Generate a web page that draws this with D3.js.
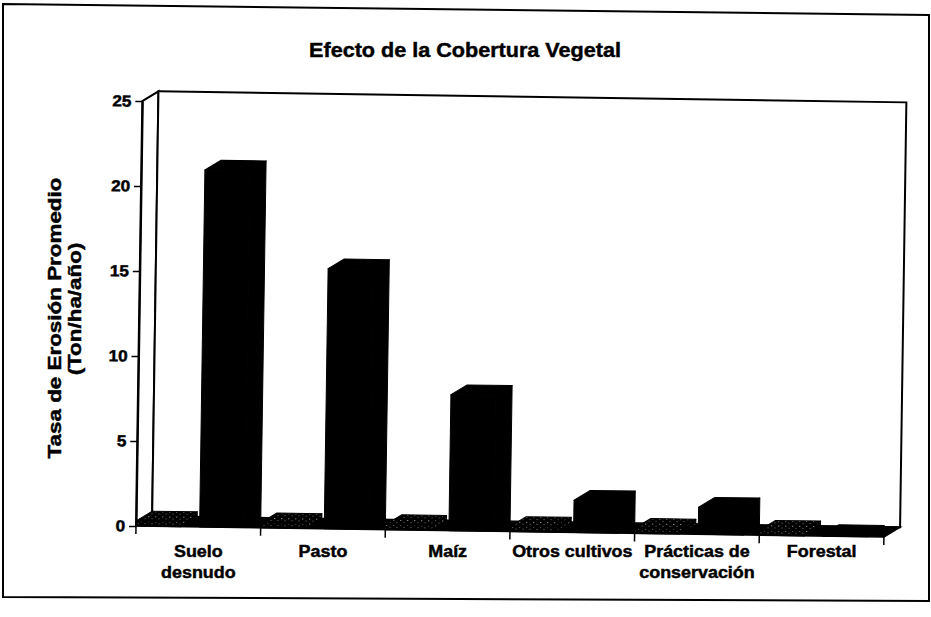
<!DOCTYPE html>
<html>
<head>
<meta charset="utf-8">
<script src="https://cdn.jsdelivr.net/npm/d3@7"></script>
<style>
  html, body { margin: 0; padding: 0; background: #fff; }
  svg { display: block; font-family: "Liberation Sans", Arial, sans-serif; }
  text { stroke: #000; stroke-width: 0.45px; }
</style>
</head>
<body>
<div id="graph"></div>
<script>
// Datos
const categorias = ["Suelo desnudo", "Pasto", "Maíz", "Otros cultivos", "Prácticas de conservación", "Forestal"];
const etiquetas = [["Suelo", "desnudo"], ["Pasto"], ["Maíz"], ["Otros cultivos"], ["Prácticas de", "conservación"], ["Forestal"]];
const tasaErosion = [21.0, 15.3, 8.0, 1.9, 1.6, 0.1];
const serieFondo = [0.3, 0.3, 0.3, 0.3, 0.3, 0.3]; // barras casi nulas (punteadas) sobre el piso
const ticksY = [0, 5, 10, 15, 20, 25];
const titulo = "Efecto de la Cobertura Vegetal";
const tituloY = ["Tasa de Erosión Promedio", "(Ton/ha/año)"];

const width = 931, height = 617;
const plotLeft = 136, plotRight = 884, plotBase = 526, plotTop = 101;
const depthX = 16, depthY = -10;   // desplazamiento del fondo (efecto 3D)
const tilt = 0.85;                 // la hoja escaneada esta algo girada

const svg = d3.select("#graph")
              .append("svg")
                .attr("width", width)
                .attr("height", height);

// Trama punteada (escasa) para la serie casi nula
const pat = svg.append("defs").append("pattern")
               .attr("id", "puntos")
               .attr("width", 7)
               .attr("height", 5)
               .attr("patternUnits", "userSpaceOnUse");
pat.append("rect").attr("width", 7).attr("height", 5).attr("fill", "#000");
pat.append("rect").attr("x", 1).attr("y", 1).attr("width", 1.2).attr("height", 1).attr("fill", "#9a9a9a");
pat.append("rect").attr("x", 4.5).attr("y", 3).attr("width", 1).attr("height", 1).attr("fill", "#777");

// Marco exterior
svg.append("path")
   .attr("d", "M3,4 L929,15 L929,601 L3,597 Z")
   .attr("fill", "none")
   .attr("stroke", "#000")
   .attr("stroke-width", 2);

var yscale = d3.scaleLinear()
               .domain([0, 25])
               .range([plotBase, plotTop]);

var xscale = d3.scaleBand()
               .domain(categorias)
               .range([plotLeft, plotRight]);

// Cada serie ocupa media categoria; el frente es mas angosto por la profundidad
var xserie = d3.scaleBand()
               .domain(["fondo", "tasa"])
               .range([0, xscale.bandwidth()])
               .paddingInner(0.04);
var frente = xserie.bandwidth() - depthX;

var chart = svg.append("g")
               .attr("transform", "rotate(" + tilt + "," + plotLeft + "," + plotBase + ")");

// Pared izquierda y pared del fondo
chart.append("path")
     .attr("d", `M${plotLeft},${plotBase} L${plotLeft + depthX},${plotBase + depthY} L${plotLeft + depthX},${plotTop + depthY} L${plotLeft},${plotTop} Z`)
     .attr("fill", "#fff")
     .attr("stroke", "#000")
     .attr("stroke-width", 2);

chart.append("rect")
     .attr("x", plotLeft + depthX)
     .attr("y", plotTop + depthY)
     .attr("width", plotRight - plotLeft)
     .attr("height", plotBase - plotTop)
     .attr("fill", "#fff")
     .attr("stroke", "#000")
     .attr("stroke-width", 2);

// Piso
chart.append("path")
     .attr("d", `M${plotLeft},${plotBase} L${plotRight},${plotBase} L${plotRight + depthX},${plotBase + depthY} L${plotLeft + depthX},${plotBase + depthY} Z`)
     .attr("fill", "#000")
     .attr("stroke", "#000")
     .attr("stroke-width", 1.5);

// Caja 3D: frente, tapa y lado derecho
function caja(sel, x, w, v, fill, borde) {
  let yv = yscale(v);
  let caras = [
    `M${x},${yv} L${x + w},${yv} L${x + w},${plotBase} L${x},${plotBase} Z`,
    `M${x},${yv} L${x + depthX},${yv + depthY} L${x + w + depthX},${yv + depthY} L${x + w},${yv} Z`,
    `M${x + w},${yv} L${x + w + depthX},${yv + depthY} L${x + w + depthX},${plotBase + depthY} L${x + w},${plotBase} Z`
  ];
  sel.selectAll(null)
     .data(caras)
     .enter()
       .append("path")
       .attr("d", d => d)
       .attr("fill", fill)
       .attr("stroke", borde)
       .attr("stroke-width", 1)
       .attr("stroke-linejoin", "round");
}

chart.selectAll("g.cat")
     .data(categorias)
     .enter()
       .append("g")
       .attr("class", "cat")
       .each(function (c, i) {
         let g = d3.select(this);
         let x0 = xscale(c);
         caja(g, x0 + xserie("fondo"), frente, serieFondo[i], "url(#puntos)", "#000");
         caja(g, x0 + xserie("tasa"), frente, tasaErosion[i], "#000", "#000");
       });

// Eje Y
var y_axis = d3.axisLeft()
               .scale(yscale)
               .tickValues(ticksY)
               .tickSize(7)
               .tickSizeOuter(0)
               .tickPadding(3);

var yAxisElements = chart.append("g")
                         .attr("transform", "translate(" + plotLeft + ",0)")
                         .call(y_axis);
yAxisElements.select(".domain").attr("stroke", "#000").attr("stroke-width", 2);
yAxisElements.selectAll(".tick line").attr("stroke", "#000").attr("stroke-width", 1.5);
yAxisElements.selectAll(".tick text")
             .attr("fill", "#000")
             .attr("font-family", "'Liberation Sans', Arial, sans-serif")
             .attr("font-size", 16)
             .attr("font-weight", "bold")
             .attr("transform", "scale(1.08,1)");

// Marcas del eje X entre categorias
var limites = categorias.map(c => xscale(c)).concat([plotRight]);
chart.selectAll("line.xtick")
     .data(limites)
     .enter()
       .append("line")
       .attr("class", "xtick")
       .attr("x1", d => d).attr("x2", d => d)
       .attr("y1", plotBase).attr("y2", plotBase + 8)
       .attr("stroke", "#000")
       .attr("stroke-width", 1.5);

// Etiquetas de categorias
svg.selectAll("text.cat")
   .data(etiquetas)
   .enter()
     .append("text")
     .attr("class", "cat")
     .attr("transform", (d, i) => "translate(" + (xscale(categorias[i]) + xscale.bandwidth() / 2) + ",557) scale(1.12,1)")
     .attr("text-anchor", "middle")
     .attr("font-size", 16)
     .attr("font-weight", "bold")
     .selectAll("tspan")
     .data(d => d)
     .enter()
       .append("tspan")
       .attr("x", 0)
       .attr("dy", (d, j) => j === 0 ? 0 : 21)
       .text(d => d);

// Titulo
svg.append("text")
   .attr("transform", "translate(465,57) scale(1.08,1)")
   .attr("text-anchor", "middle")
   .attr("font-size", 20)
   .attr("font-weight", "bold")
   .text(titulo);

// Titulo del eje Y (dos lineas)
svg.append("text")
   .attr("transform", "translate(61,318) rotate(-90) scale(1.18,1)")
   .attr("text-anchor", "middle")
   .attr("font-size", 19)
   .attr("font-weight", "bold")
   .text(tituloY[0]);

svg.append("text")
   .attr("transform", "translate(81,309) rotate(-90) scale(1.18,1)")
   .attr("text-anchor", "middle")
   .attr("font-size", 19)
   .attr("font-weight", "bold")
   .text(tituloY[1]);
</script>
</body>
</html>
